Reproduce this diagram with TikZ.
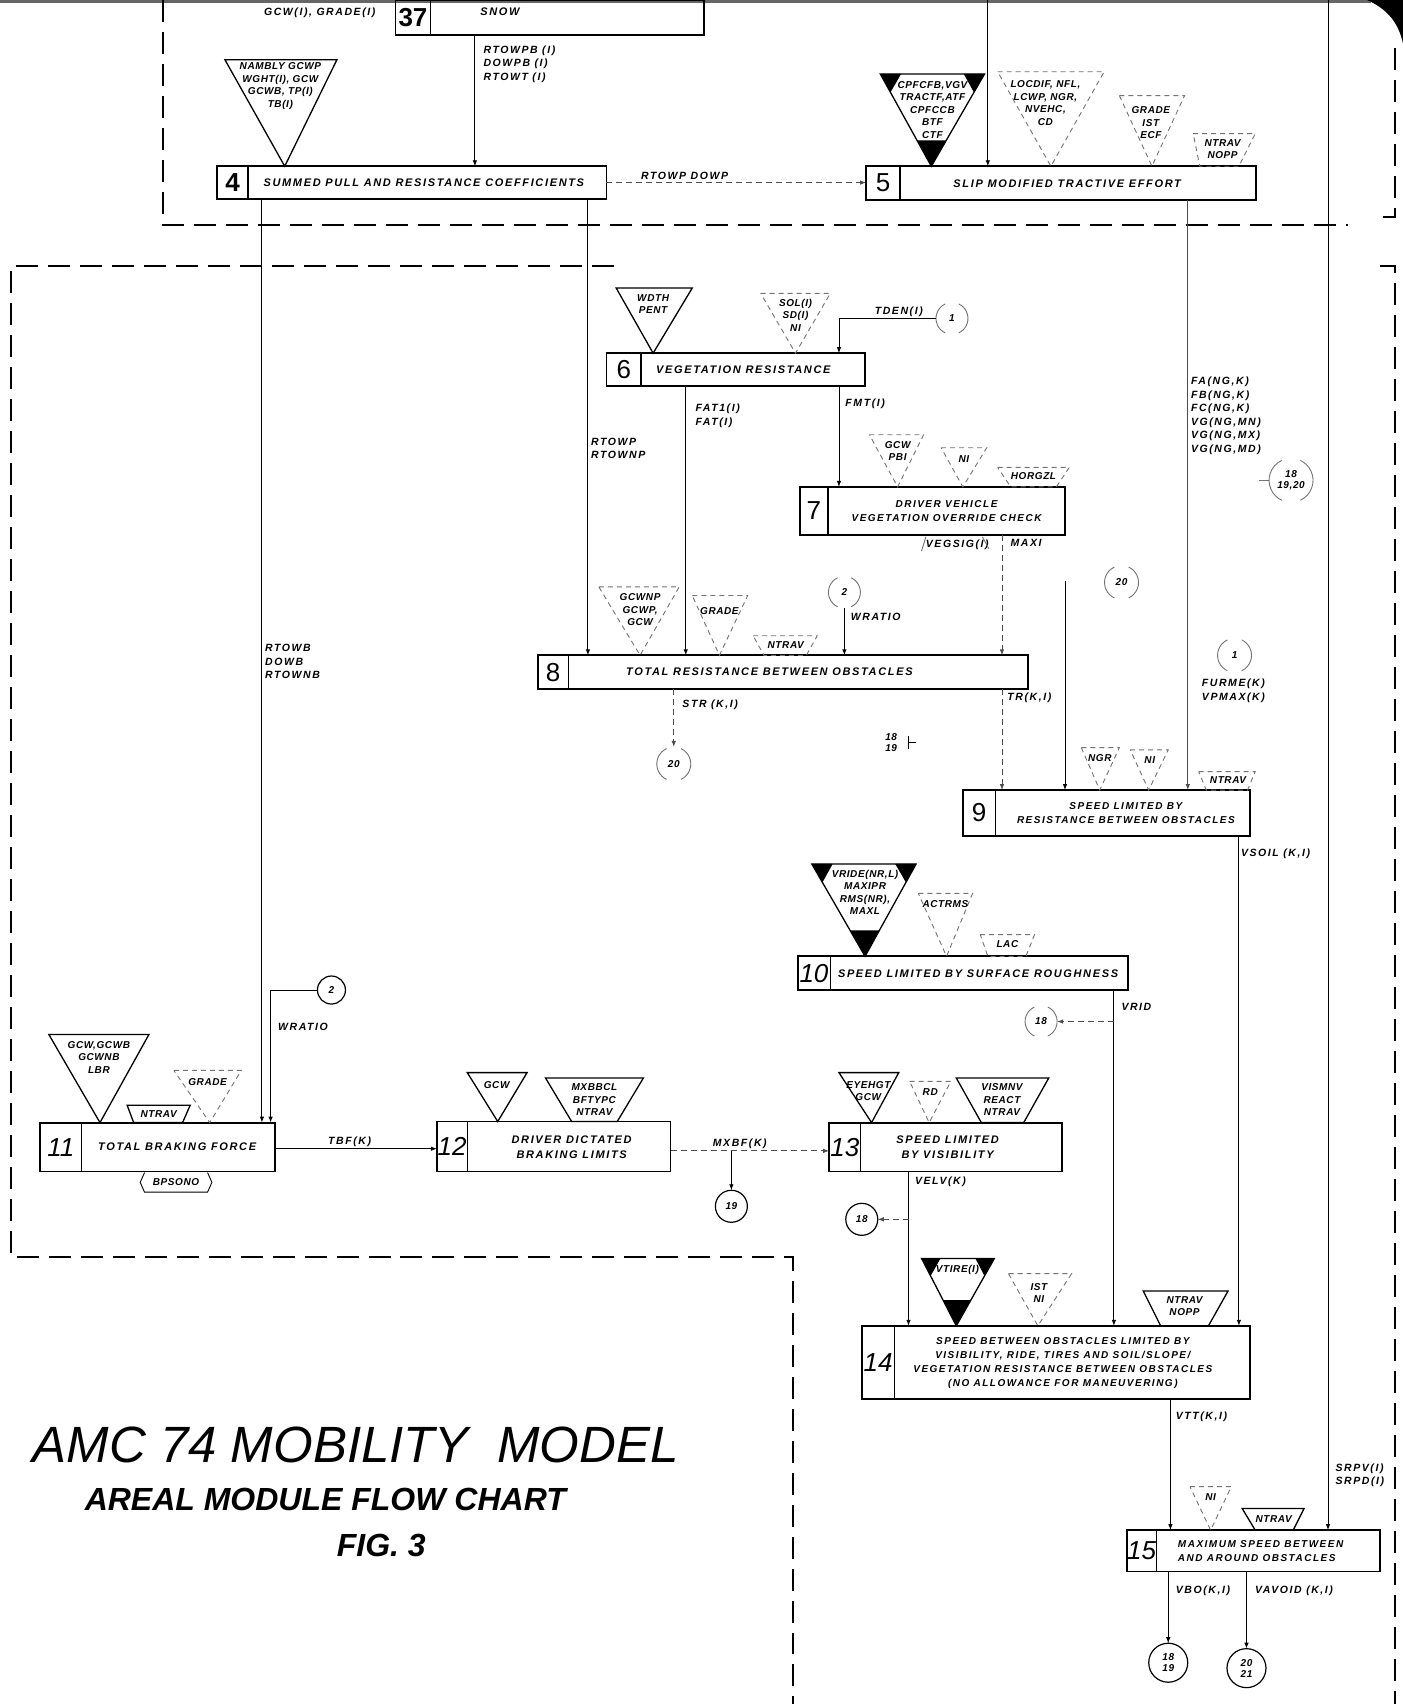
\documentclass[tikz,border=0pt]{standalone}
\usepackage{fontspec}
\setmainfont{Liberation Sans}
\newfontfamily\labf[LetterSpace=15]{Liberation Sans}
\newfontfamily\trif[LetterSpace=6]{Liberation Sans}
\newfontfamily\numf{Liberation Sans}
\usetikzlibrary{arrows.meta,calc,fit}
\tikzset{
  every node/.style={inner sep=0pt,outer sep=0pt},
  pbox/.style={draw,line width=1.8pt},
  divl/.style={line width=1.5pt},
  numup/.style={font={\numf\fontsize{26}{26}\selectfont}},
  numit/.style={font={\numf\itshape\fontsize{26}{26}\selectfont}},
  btxt/.style={font={\labf\bfseries\itshape\fontsize{11}{15}\selectfont},align=center},
  btxs/.style={font={\labf\bfseries\itshape\fontsize{10}{14}\selectfont},align=center},
  lab/.style={font={\labf\bfseries\itshape\fontsize{10.5}{13.5}\selectfont},align=left,anchor=north west},
  labb/.style={font={\labf\bfseries\itshape\fontsize{10.5}{13.5}\selectfont},anchor=base west},
  ttxt/.style={font={\trif\bfseries\itshape\fontsize{10}{12.5}\selectfont},align=center},
  conn/.style={line width=0.9pt,-{Latex[length=6pt,width=4.5pt]}},
  dconn/.style={conn,dash pattern=on 6pt off 4pt,draw=black!70},
  gconn/.style={conn,draw=black!70},
  plain/.style={line width=0.9pt},
  soltri/.style={line width=1.3pt,line join=miter},
  dtri/.style={line width=0.9pt,draw=black!55,dash pattern=on 5pt off 4pt},
  region/.style={line width=1.8pt,dash pattern=on 22pt off 10pt},
  ctxt/.style={font={\trif\bfseries\itshape\fontsize{10}{11}\selectfont},align=center},
  scirc/.style={circle,draw,line width=1.2pt,ctxt},
  fcirc/.style={circle,ctxt},
  faint/.style={line width=0.9pt,draw=black!55},
}
\newcommand\procbox[8]{%
  \node[pbox,fit={(#2,#3) (#4,#5)}] (#1) {};
  \draw[divl] (#6,#3) -- (#6,#5);
  \node[#7] (#1n) at ({(#2+#6)/2},{(#3+#5)/2}) {#8};
}
\newcommand\blacktri[5]{%
  \draw[soltri] (#1) -- (#2) -- (#3) -- cycle;
  \fill ($(#1)$) -- ($(#1)!#4!(#2)$) -- ($(#1)!#4!(#3)$) -- cycle;
  \fill ($(#2)$) -- ($(#2)!#4!(#1)$) -- ($(#2)!#4!(#3)$) -- cycle;
  \fill ($(#3)$) -- ($(#3)!#5!(#1)$) -- ($(#3)!#5!(#2)$) -- cycle;
}
\newcommand\fring[2]{%
  \draw[faint] (#1.115) arc[start angle=115,end angle=245,radius=#2];
  \draw[faint] (#1.-65) arc[start angle=-65,end angle=65,radius=#2];
}
\begin{document}
\begin{tikzpicture}[x=1.0868pt,y=-1.0868pt]
\useasboundingbox (0,0) rectangle (1291,1568);
\fill[white] (0,0) rectangle (1291,1568);

% ---------- scan edges and region borders
\draw[line width=3pt,black!60] (0,1.5) -- (1262,1.5);
\fill (1258,0) -- (1291,0) -- (1291,40) .. controls (1287,22) and (1278,9) .. (1258,0) -- cycle;
\draw[region] (150,0) -- (150,207) -- (1240,207);
\draw[region] (1284,44) -- (1284,200) -- (1272,200);
\draw[region] (565,245) -- (10,245) -- (10,1157) -- (730,1157) -- (730,1568);
\draw[region] (1270,245) -- (1284,245) -- (1284,1568);

% ---------- process boxes
\procbox{b37}{364}{0}{648}{32}{396}{numup}{\bfseries 37}
\node[btxt] (b37t) at (460,11) {SNOW};
\node[labb] (l37) at (243,14) {GCW(I), GRADE(I)};

\procbox{b4}{200}{153}{558}{183}{228}{numup}{\bfseries 4}
\node[btxt] (b4t) at (390,168) {SUMMED PULL AND RESISTANCE COEFFICIENTS};

\procbox{b5}{797}{153}{1156}{184}{828}{numup}{5}
\node[btxt] (b5t) at (982,169) {SLIP MODIFIED TRACTIVE EFFORT};

\procbox{b6}{558}{325}{796}{355}{590}{numup}{6}
\node[btxt] (b6t) at (684,340) {VEGETATION RESISTANCE};

\procbox{b7}{736}{448}{980}{492}{762}{numup}{7}
\node[btxs] (b7t) at (871,470) {DRIVER VEHICLE\\VEGETATION OVERRIDE CHECK};

\procbox{b8}{495}{603}{946}{634}{523}{numup}{8}
\node[btxt] (b8t) at (708,618) {TOTAL RESISTANCE BETWEEN OBSTACLES};

\procbox{b9}{886}{727}{1150}{769}{916}{numup}{9}
\node[btxs] (b9t) at (1036,748) {SPEED LIMITED BY\\RESISTANCE BETWEEN OBSTACLES};

\procbox{b10}{734}{880}{1038}{911}{764}{numit}{10}
\node[btxt] (b10t) at (900,896) {SPEED LIMITED BY SURFACE ROUGHNESS};

\procbox{b11}{37}{1033}{253}{1078}{75}{numit}{11}
\node[btxt] (b11t) at (163,1055) {TOTAL BRAKING FORCE};

\procbox{b12}{402}{1032}{617}{1078}{430}{numit}{12}
\node[btxt] (b12t) at (526,1056) {DRIVER DICTATED\\BRAKING LIMITS};

\procbox{b13}{763}{1033}{977}{1078}{792}{numit}{13}
\node[btxt] (b13t) at (872,1056) {SPEED LIMITED\\BY VISIBILITY};

\procbox{b14}{793}{1220}{1150}{1287}{823}{numit}{14}
\node[btxs] (b14t) at (978,1254) {SPEED BETWEEN OBSTACLES LIMITED BY\\VISIBILITY, RIDE, TIRES AND SOIL/SLOPE/\\VEGETATION RESISTANCE BETWEEN OBSTACLES\\(NO ALLOWANCE FOR MANEUVERING)};

\procbox{b15}{1037}{1408}{1270}{1446}{1064}{numit}{15}
\node[btxs,align=left] (b15t) at (1160,1427) {MAXIMUM SPEED BETWEEN\\AND AROUND OBSTACLES};

% ---------- input triangles
\draw[soltri] (207,55) -- (310,55) -- (262,153) -- cycle;
\node[ttxt] (t4a) at (258,79) {NAMBLY GCWP\\WGHT(I), GCW\\GCWB, TP(I)\\TB(I)};

\blacktri{810,68}{906,68}{857,153}{0.2}{0.28}
\node[ttxt] (t5a) at (858,101) {CPFCFB,VGV\\TRACTF,ATF\\CPFCCB\\BTF\\CTF};
\draw[dtri] (918,66) -- (1016,66) -- (967,153) -- cycle;
\node[ttxt] (t5b) at (962,95) {LOCDIF, NFL,\\LCWP, NGR,\\NVEHC,\\CD};
\draw[dtri] (1030,88) -- (1090,88) -- (1060,153) -- cycle;
\node[ttxt] (t5c) at (1059,113) {GRADE\\IST\\ECF};
\draw[dtri] (1098,123) -- (1155,123) -- (1140,153) -- (1104,153) -- cycle;
\node[ttxt] (t5d) at (1125,137) {NTRAV\\NOPP};

\draw[soltri] (567,265) -- (637,265) -- (601,325) -- cycle;
\node[ttxt] (t6a) at (601,280) {WDTH\\PENT};
\draw[dtri] (700,270) -- (764,270) -- (732,325) -- cycle;
\node[ttxt] (t6b) at (732,290) {SOL(I)\\SD(I)\\NI};

\draw[dtri] (800,400) -- (850,400) -- (826,448) -- cycle;
\node[ttxt] (t7a) at (826,415) {GCW\\PBI};
\draw[dtri] (866,412) -- (908,412) -- (886,448) -- cycle;
\node[ttxt] (t7b) at (887,422) {NI};
\draw[dtri] (918,430) -- (984,430) -- (972,448) -- (930,448) -- cycle;
\node[ttxt] (t7c) at (951,438) {HORGZL};

\draw[dtri] (551,540) -- (625,540) -- (589,603) -- cycle;
\node[ttxt] (t8a) at (589,561) {GCWNP\\GCWP,\\GCW};
\draw[dtri] (637,548) -- (688,548) -- (662,603) -- cycle;
\node[ttxt] (t8b) at (662,562) {GRADE};
\draw[dtri] (693,585) -- (752,585) -- (742,603) -- (703,603) -- cycle;
\node[ttxt] (t8c) at (723,594) {NTRAV};

\draw[dtri] (995,688) -- (1030,688) -- (1012,727) -- cycle;
\node[ttxt] (t9a) at (1012,698) {NGR};
\draw[dtri] (1040,690) -- (1075,690) -- (1057,727) -- cycle;
\node[ttxt] (t9b) at (1058,699) {NI};
\draw[dtri] (1103,710) -- (1155,710) -- (1148,727) -- (1110,727) -- cycle;
\node[ttxt] (t9c) at (1130,718) {NTRAV};

\blacktri{747,795}{843,795}{796,880}{0.2}{0.28}
\node[ttxt] (t10a) at (796,821) {VRIDE(NR,L)\\MAXIPR\\RMS(NR),\\MAXL};
\draw[dtri] (845,822) -- (895,822) -- (871,880) -- cycle;
\node[ttxt] (t10b) at (870,832) {ACTRMS};
\draw[dtri] (902,860) -- (952,860) -- (944,880) -- (909,880) -- cycle;
\node[ttxt] (t10c) at (927,869) {LAC};

\draw[soltri] (45,952) -- (137,952) -- (92,1033) -- cycle;
\node[ttxt] (t11a) at (91,973) {GCW,GCWB\\GCWNB\\LBR};
\draw[soltri] (117,1017) -- (175,1017) -- (168,1033) -- (123,1033) -- cycle;
\node[ttxt] (t11b) at (146,1025) {NTRAV};
\draw[dtri] (160,985) -- (222,985) -- (193,1033) -- cycle;
\node[ttxt] (t11c) at (191,996) {GRADE};

\draw[soltri] (430,987) -- (485,987) -- (458,1032) -- cycle;
\node[ttxt] (t12a) at (457,998) {GCW};
\draw[soltri] (502,992) -- (592,992) -- (568,1032) -- (526,1032) -- cycle;
\node[ttxt] (t12b) at (547,1012) {MXBBCL\\BFTYPC\\NTRAV};

\draw[soltri] (772,987) -- (827,987) -- (802,1033) -- cycle;
\node[ttxt] (t13a) at (799,1004) {EYEHGT\\GCW};
\draw[dtri] (837,995) -- (875,995) -- (855,1033) -- cycle;
\node[ttxt] (t13b) at (856,1005) {RD};
\draw[soltri] (880,992) -- (965,992) -- (942,1033) -- (903,1033) -- cycle;
\node[ttxt] (t13c) at (922,1012) {VISMNV\\REACT\\NTRAV};

\blacktri{848,1158}{915,1158}{880,1220}{0.26}{0.38}
\node[ttxt] (t14a) at (881,1169) {VTIRE(I)};
\draw[dtri] (928,1172) -- (986,1172) -- (955,1220) -- cycle;
\node[ttxt] (t14b) at (956,1190) {IST\\NI};
\draw[soltri] (1052,1188) -- (1130,1188) -- (1112,1220) -- (1068,1220) -- cycle;
\node[ttxt] (t14c) at (1090,1202) {NTRAV\\NOPP};

\draw[dtri] (1095,1368) -- (1133,1368) -- (1114,1408) -- cycle;
\node[ttxt] (t15a) at (1114,1378) {NI};
\draw[soltri] (1143,1388) -- (1200,1388) -- (1190,1408) -- (1155,1408) -- cycle;
\node[ttxt] (t15b) at (1172,1398) {NTRAV};

% ---------- connector circles
\node[scirc,minimum size=28pt] (c2L) at (305,911) {2};
\node[fcirc,minimum size=32pt] (c2M) at (777,545) {2};
\node[fcirc,minimum size=32pt] (c1T) at (876,293) {1};
\node[fcirc,minimum size=34pt] (c20a) at (620,703) {20};
\node[fcirc,minimum size=34pt] (c20b) at (1032,536) {20};
\node[fcirc,minimum size=34pt] (c1R) at (1136,603) {1};
\node[fcirc,minimum size=44pt] (c18x) at (1188,442) {18\\19,20};
\node[fcirc,minimum size=32pt] (c18a) at (958,940) {18};
\node[scirc,minimum size=32pt] (c19) at (673,1110) {19};
\node[scirc,minimum size=32pt] (c18b) at (793,1122) {18};
\node[scirc,minimum size=39pt] (c1819) at (1075,1530) {18\\19};
\node[scirc,minimum size=39pt] (c2021) at (1147,1535) {20\\21};
\fring{c2M}{16pt}
\fring{c1T}{16pt}
\fring{c20a}{17pt}
\fring{c20b}{17pt}
\fring{c1R}{17pt}
\fring{c18x}{22pt}
\fring{c18a}{16pt}
\draw[faint] (c18x.west) -- ++(-9,0);
\node[ctxt] (frag) at (820,683) {18\\19};
\draw[plain] (836,677) -- (836,689) (836,683) -- (843,683);

% ---------- free ends
\coordinate (top909) at (909,0);
\coordinate (top1222) at (1222,0);
\coordinate (top980) at (980,535);
\coordinate (jv) at (1025,940);
\coordinate (jm) at (673,1059);
\coordinate (jvel) at (836,1122);

% ---------- connectors
\draw[conn] (b37.south -| 437,0) -- (b4.north -| 437,0);
\node[lab] (l1) at (445,42) {RTOWPB (I)\\DOWPB (I)\\RTOWT (I)};
\draw[dconn] (b4.east) -- (b5.west |- b4.east);
\node[labb] (l2) at (590,165) {RTOWP DOWP};
\draw[conn] (top909) -- (b5.north -| 909,0);
\draw[conn] (top1222) -- (b15.north -| 1222,0);
\node[lab] (l3) at (1229,1347) {SRPV(I)\\SRPD(I)};
\draw[conn] (b4.south -| 241,0) -- (b11.north -| 241,0);
\node[lab] (l4) at (244,593) {RTOWB\\DOWB\\RTOWNB};
\draw[conn] (b4.south -| 541,0) -- (b8.north -| 541,0);
\node[lab] (l5) at (544,403) {RTOWP\\RTOWNP};
\draw[gconn] (b5.south -| 1093,0) -- (b9.north -| 1093,0);
\node[lab] (l6) at (1096,347) {FA(NG,K)\\FB(NG,K)\\FC(NG,K)\\VG(NG,MN)\\VG(NG,MX)\\VG(NG,MD)};
\node[lab] (l7) at (1106,625) {FURME(K)\\VPMAX(K)};
\draw[conn] (c1T.west) -| (b6.north -| 772,0);
\node[labb] (l8) at (805,289) {TDEN(I)};
\draw[conn] (b6.south -| 631,0) -- (b8.north -| 631,0);
\node[lab] (l9) at (640,372) {FAT1(I)\\FAT(I)};
\draw[conn] (b6.south -| 772,0) -- (b7.north -| 772,0);
\node[labb] (l10) at (778,374) {FMT(I)};
\draw[dconn] (b7.south -| 922,0) -- (b8.north -| 922,0);
\node[labb] (l11) at (930,503) {MAXI};
\node[labb] (l12) at (852,504) {VEGSIG(I)};
\draw[faint] (852,494) -- (848,507) (904,494) -- (910,505);
\draw[conn] (c2M.south) -- (b8.north -| c2M.south);
\node[labb] (l13) at (783,571) {WRATIO};
\draw[dconn] (b8.south -| 620,0) -- (c20a.north);
\node[labb] (l14) at (628,651) {STR (K,I)};
\draw[dconn] (b8.south -| 922,0) -- (b9.north -| 922,0);
\node[labb] (l15) at (927,645) {TR(K,I)};
\draw[conn] (top980) -- (b9.north -| 980,0);
\draw[conn] (b9.south -| 1140,0) -- (b14.north -| 1140,0);
\node[labb] (l16) at (1142,788) {VSOIL (K,I)};
\draw[conn] (b10.south -| 1025,0) -- (b14.north -| 1025,0);
\node[labb] (l17) at (1032,930) {VRID};
\draw[dconn] (jv) -- (c18a.east);
\draw[conn] (c2L.west) -| (b11.north -| 249,0);
\node[labb] (l18) at (256,948) {WRATIO};
\draw[conn] (b11.east |- 0,1057) -- (b12.west |- 0,1057);
\node[labb] (l19) at (302,1053) {TBF(K)};
\draw[dconn] (b12.east |- 0,1059) -- (b13.west |- 0,1059);
\node[labb] (l20) at (656,1055) {MXBF(K)};
\draw[conn] (jm) -- (c19.north);
\draw[conn] (b13.south -| 836,0) -- (b14.north -| 836,0);
\node[labb] (l21) at (842,1090) {VELV(K)};
\draw[dconn] (jvel) -- (c18b.east);
\draw[conn] (b14.south -| 1077,0) -- (b15.north -| 1077,0);
\node[labb] (l22) at (1082,1306) {VTT(K,I)};
\draw[conn] (b15.south -| 1075,0) -- (c1819.north);
\node[labb] (l23) at (1082,1466) {VBO(K,I)};
\draw[conn] (b15.south -| 1147,0) -- (c2021.north);
\node[labb] (l24) at (1155,1466) {VAVOID (K,I)};

% BPSONO tag under box 11
\draw[plain] (133,1079) -- (129,1088) -- (133,1097) -- (191,1097) -- (195,1088) -- (191,1079);
\node[ctxt] (bps) at (162,1088) {BPSONO};

% ---------- title
\node[font={\itshape\fontsize{51}{56}\selectfont},anchor=base west] (title) at (30,1346) {AMC 74 MOBILITY\ \ MODEL};
\node[font={\bfseries\itshape\fontsize{32}{36}\selectfont},anchor=base west] (sub) at (78,1390) {AREAL MODULE FLOW CHART};
\node[font={\bfseries\itshape\fontsize{32}{36}\selectfont},anchor=base west] (fig) at (310,1432) {FIG. 3};
\end{tikzpicture}
\end{document}
